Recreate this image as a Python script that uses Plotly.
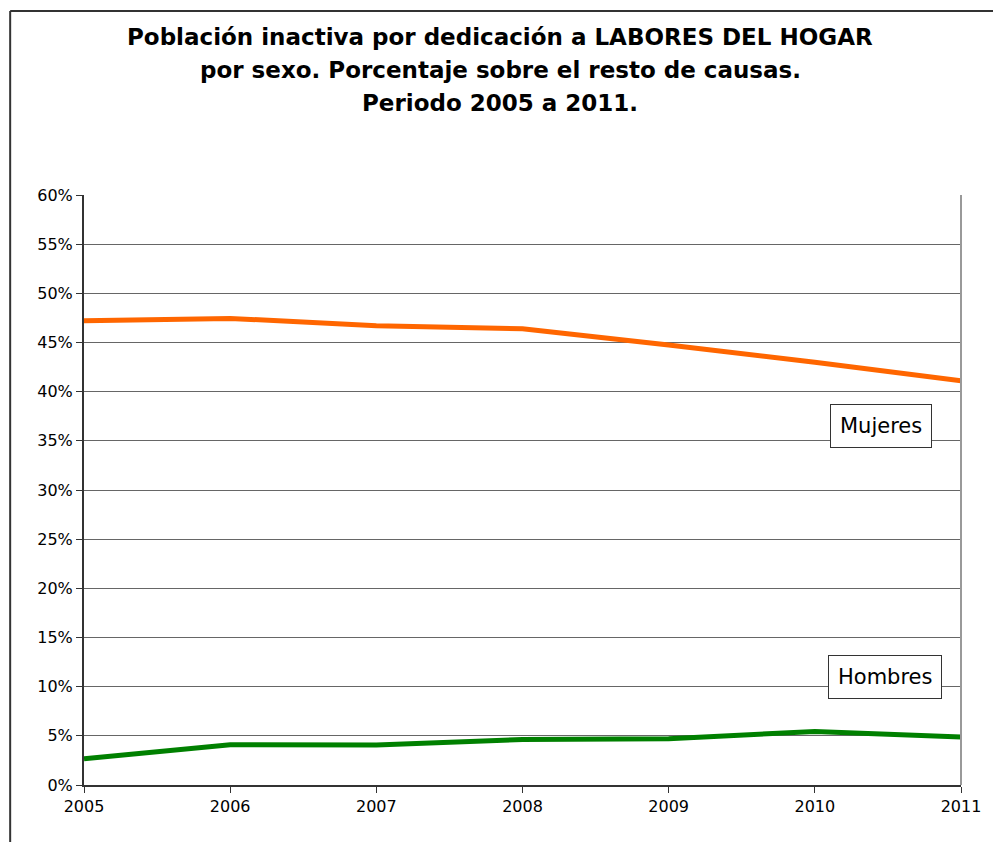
import plotly.graph_objects as go

# Years on the horizontal axis
years = [2005, 2006, 2007, 2008, 2009, 2010, 2011]

# Share of inactive population devoted to household chores (%)
mujeres = [47.2, 47.45, 46.7, 46.4, 44.75, 43.0, 41.1]
hombres = [2.67, 4.09, 4.08, 4.63, 4.7, 5.45, 4.87]

y_ticks = list(range(0, 61, 5))
y_tick_text = [f"{v}%" for v in y_ticks]

title_lines = [
    "Población inactiva por dedicación a LABORES DEL HOGAR",
    "por sexo. Porcentaje sobre el resto de causas.",
    "Periodo 2005 a 2011.",
]

W, H = 993, 842
ML, MR, MT, MB = 84, 30, 195, 57
plot_w = W - ML - MR
plot_h = H - MT - MB
FONT = "DejaVu Sans, Arial"


def px_x(px):
    return (px - ML) / plot_w


def px_y(py):
    return (H - MB - py) / plot_h


fig = go.Figure()

fig.add_trace(go.Scatter(
    x=years, y=mujeres, mode="lines", name="Mujeres",
    line=dict(color="#FF6600", width=5), hoverinfo="skip",
))
fig.add_trace(go.Scatter(
    x=years, y=hombres, mode="lines", name="Hombres",
    line=dict(color="#008000", width=5), hoverinfo="skip",
))

# Outer chart frame (top and left edges)
fx, fy = px_x(10), px_y(11)
fig.add_shape(type="line", xref="paper", yref="paper",
              x0=fx, y0=fy, x1=1.2, y1=fy,
              line=dict(color="#333333", width=2))
fig.add_shape(type="line", xref="paper", yref="paper",
              x0=fx, y0=fy, x1=fx, y1=-0.2,
              line=dict(color="#333333", width=2))

# Right edge of the plotting area
fig.add_shape(type="line", xref="paper", yref="paper",
              x0=1, y0=0, x1=1, y1=1,
              line=dict(color="#999999", width=2))

# Three-line bold title
for line, cy in zip(title_lines, [37, 70, 103]):
    fig.add_annotation(
        x=px_x(501), y=px_y(cy), xref="paper", yref="paper",
        xanchor="center", yanchor="middle", showarrow=False,
        text=f"<b>{line}</b>",
        font=dict(family=FONT, size=23, color="black"),
    )

box = dict(bgcolor="white", bordercolor="#333333", borderwidth=1,
           font=dict(family=FONT, size=21, color="black"),
           showarrow=False, xref="x", yref="y", borderpad=9)
fig.add_annotation(x=2010.45, y=36.5, text="Mujeres", **box)
fig.add_annotation(x=2010.48, y=10.98, text="Hombres", **box)

fig.update_layout(
    width=W, height=H,
    margin=dict(l=ML, r=MR, t=MT, b=MB),
    paper_bgcolor="white", plot_bgcolor="white",
    showlegend=False,
    font=dict(family=FONT, size=16, color="black"),
)

fig.update_xaxes(
    range=[2005, 2011], tickmode="array", tickvals=years,
    ticktext=[str(y) for y in years],
    showgrid=False, zeroline=False,
    showline=True, linecolor="#333333", linewidth=2,
    ticks="outside", ticklen=6, tickcolor="#333333",
    tickfont=dict(family=FONT, size=16),
)
fig.update_yaxes(
    range=[0, 60], tickmode="array", tickvals=y_ticks, ticktext=y_tick_text,
    showgrid=True, gridcolor="#666666", gridwidth=1, zeroline=False,
    showline=True, linecolor="#333333", linewidth=2,
    ticks="outside", ticklen=6, tickcolor="#333333",
    tickfont=dict(family=FONT, size=16),
)

fig.write_html("out.html")
